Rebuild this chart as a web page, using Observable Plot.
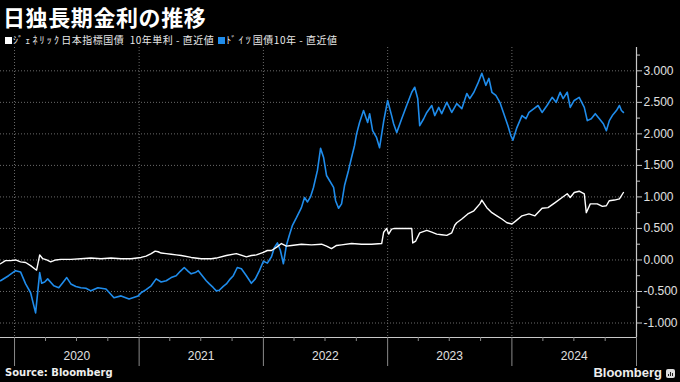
<!DOCTYPE html>
<html>
<head>
<meta charset="utf-8">
<script src="https://cdn.jsdelivr.net/npm/d3@7"></script>
<script src="https://cdn.jsdelivr.net/npm/@observablehq/plot@0.6"></script>
<style>
  html, body { margin:0; padding:0; background:#000; }
  body { width:680px; height:382px; overflow:hidden; position:relative; font-family:"Noto Sans CJK JP","Noto Sans",sans-serif; color:#fff; }
  #title { height:32px; line-height:32px; font-size:22px; letter-spacing:0.6px; font-weight:700; padding-left:3px; white-space:nowrap; }
  #legend { height:15px; line-height:15px; font-size:10px; letter-spacing:0.5px; padding-left:5px; white-space:pre; color:#e8e8e8; }
  #legend .sw { display:inline-block; width:7px; height:7px; margin-right:1px; vertical-align:0px; }
  #legend .item { margin-right:4px; }
  #legend .kana { letter-spacing:2.2px; }
  #chart { height:320px; }
  #footer { position:absolute; left:0; top:365px; width:680px; height:17px; }
  #src { position:absolute; left:5px; top:2px; font-family:"DejaVu Sans",sans-serif; font-weight:700; font-size:10px; color:#eee; }
  #brand { position:absolute; right:18px; top:0px; font-family:"Liberation Sans","Roboto",sans-serif; font-weight:700; font-size:13px; line-height:15px; color:#eee; }
  #logo { position:absolute; right:5px; top:4px; width:9px; height:9px; background:#ddd; border-radius:2px; }
  #logo i { position:absolute; bottom:2px; width:1px; background:#222; }
</style>
</head>
<body>
<div id="title">日独長期金利の推移</div>
<div id="legend"></div>
<div id="chart"></div>
<div id="footer"><span id="src">Source: Bloomberg</span><span id="brand">Bloomberg</span><span id="logo"><i style="left:2px;height:2px"></i><i style="left:4px;height:4px"></i><i style="left:6px;height:3px"></i></span></div>
<script>
// Series names / colours (kana prefix shown separately for spacing)
const seriesKana = ["ｼﾞｪﾈﾘｯｸ", "ﾄﾞｲﾂ"];
const seriesRest = ["日本指標国債  10年単利 - 直近値", "国債10年 - 直近値"];
const seriesColors = ["#ffffff", "#1f8ceb"];

// Japan 10Y (fractional year, yield %)
const jgbT = [2019.887,2019.927,2019.968,2020.008,2020.048,2020.089,2020.129,2020.161,2020.177,2020.194,2020.202,2020.226,2020.258,2020.290,2020.331,2020.371,2020.452,2020.532,2020.613,2020.694,2020.774,2020.855,2020.935,2021.016,2021.056,2021.097,2021.129,2021.153,2021.177,2021.218,2021.258,2021.298,2021.339,2021.419,2021.500,2021.581,2021.621,2021.702,2021.782,2021.863,2021.903,2021.944,2022.000,2022.032,2022.065,2022.105,2022.145,2022.185,2022.226,2022.306,2022.387,2022.468,2022.508,2022.548,2022.589,2022.629,2022.710,2022.790,2022.871,2022.952,2022.968,2022.992,2023.008,2023.032,2023.056,2023.113,2023.153,2023.194,2023.202,2023.226,2023.258,2023.315,2023.355,2023.395,2023.435,2023.476,2023.516,2023.540,2023.556,2023.597,2023.645,2023.694,2023.742,2023.758,2023.798,2023.839,2023.879,2023.919,2023.960,2024.000,2024.032,2024.081,2024.137,2024.185,2024.242,2024.290,2024.347,2024.403,2024.444,2024.468,2024.500,2024.540,2024.581,2024.597,2024.629,2024.685,2024.726,2024.758,2024.782,2024.823,2024.863,2024.895];
const jgbV = [-0.06,-0.01,-0.01,0.00,-0.03,-0.04,-0.09,-0.14,-0.16,0.00,0.08,0.02,0.00,-0.03,0.00,0.01,0.01,0.02,0.03,0.02,0.03,0.02,0.02,0.04,0.06,0.10,0.14,0.13,0.11,0.10,0.09,0.08,0.07,0.04,0.02,0.02,0.03,0.07,0.10,0.05,0.07,0.08,0.12,0.15,0.15,0.20,0.26,0.22,0.23,0.25,0.24,0.25,0.22,0.18,0.23,0.24,0.26,0.25,0.25,0.26,0.44,0.50,0.41,0.49,0.50,0.50,0.50,0.50,0.27,0.30,0.43,0.47,0.44,0.41,0.40,0.39,0.43,0.55,0.59,0.65,0.73,0.78,0.89,0.95,0.83,0.75,0.70,0.65,0.59,0.57,0.62,0.70,0.73,0.70,0.82,0.83,0.91,0.99,1.05,0.99,1.07,1.09,1.05,0.75,0.89,0.89,0.85,0.86,0.94,0.95,0.97,1.07];

// Germany 10Y (fractional year, yield %)
const bundT = [2019.887,2019.952,2020.008,2020.048,2020.089,2020.129,2020.169,2020.202,2020.218,2020.242,2020.266,2020.315,2020.355,2020.387,2020.419,2020.452,2020.492,2020.532,2020.573,2020.613,2020.669,2020.734,2020.798,2020.855,2020.919,2020.992,2021.016,2021.056,2021.097,2021.137,2021.177,2021.218,2021.258,2021.298,2021.331,2021.363,2021.395,2021.419,2021.452,2021.476,2021.508,2021.540,2021.565,2021.597,2021.621,2021.645,2021.677,2021.702,2021.734,2021.758,2021.790,2021.823,2021.863,2021.903,2021.935,2021.968,2022.000,2022.032,2022.065,2022.089,2022.113,2022.137,2022.161,2022.185,2022.210,2022.234,2022.266,2022.306,2022.331,2022.355,2022.379,2022.403,2022.435,2022.460,2022.484,2022.508,2022.532,2022.565,2022.581,2022.605,2022.629,2022.653,2022.685,2022.710,2022.734,2022.750,2022.774,2022.806,2022.839,2022.855,2022.879,2022.911,2022.935,2022.968,2023.000,2023.032,2023.048,2023.073,2023.113,2023.153,2023.194,2023.218,2023.242,2023.258,2023.290,2023.315,2023.355,2023.379,2023.411,2023.435,2023.476,2023.516,2023.556,2023.597,2023.637,2023.661,2023.694,2023.726,2023.758,2023.790,2023.815,2023.839,2023.871,2023.903,2023.935,2023.968,2023.992,2024.008,2024.040,2024.081,2024.113,2024.137,2024.177,2024.210,2024.242,2024.282,2024.323,2024.355,2024.387,2024.411,2024.444,2024.468,2024.500,2024.540,2024.581,2024.605,2024.637,2024.669,2024.702,2024.734,2024.758,2024.782,2024.806,2024.839,2024.863,2024.879,2024.895];
const bundV = [-0.33,-0.25,-0.17,-0.19,-0.38,-0.52,-0.84,-0.20,-0.37,-0.35,-0.30,-0.41,-0.44,-0.36,-0.28,-0.38,-0.42,-0.44,-0.45,-0.49,-0.44,-0.46,-0.60,-0.57,-0.62,-0.57,-0.52,-0.47,-0.41,-0.30,-0.35,-0.33,-0.28,-0.25,-0.18,-0.12,-0.18,-0.22,-0.20,-0.17,-0.25,-0.33,-0.38,-0.44,-0.49,-0.48,-0.42,-0.38,-0.30,-0.25,-0.12,-0.14,-0.25,-0.37,-0.30,-0.17,-0.02,-0.05,0.05,0.20,0.27,0.15,-0.06,0.23,0.40,0.55,0.67,0.83,0.99,0.92,1.00,1.15,1.42,1.77,1.63,1.34,1.26,1.15,0.94,0.82,0.89,1.18,1.42,1.63,1.82,2.00,2.18,2.37,2.18,2.32,2.05,1.94,1.78,2.20,2.53,2.29,2.16,2.02,2.24,2.45,2.66,2.74,2.56,2.13,2.24,2.34,2.45,2.29,2.42,2.32,2.50,2.34,2.48,2.40,2.64,2.56,2.66,2.80,2.96,2.77,2.88,2.66,2.61,2.50,2.32,2.13,1.97,1.90,2.10,2.29,2.24,2.34,2.40,2.45,2.34,2.45,2.58,2.50,2.66,2.56,2.66,2.42,2.53,2.58,2.42,2.21,2.24,2.32,2.24,2.16,2.05,2.21,2.29,2.37,2.45,2.37,2.34];

// Axis ticks
const yMajor = [-1, -0.5, 0, 0.5, 1, 1.5, 2, 2.5, 3];
const yMinor = [-0.75, -0.25, 0.25, 0.75, 1.25, 1.75, 2.25, 2.75, 3.25];
const yearTicks = [2020, 2021, 2022, 2023, 2024, 2025];
const yearLabels = ["2020", "2021", "2022", "2023", "2024"];
const xStart = 2019.887, xEnd = 2025;
const yDomain = [-1.23, 3.37];

function yr(t) {
  const y = Math.floor(t);
  const s = Date.UTC(y, 0, 1), e = Date.UTC(y + 1, 0, 1);
  return new Date(s + (t - y) * (e - s));
}

const jgb = jgbT.map((t, i) => ({date: yr(t), v: jgbV[i]}));
const bund = bundT.map((t, i) => ({date: yr(t), v: bundV[i]}));
const yearDates = yearTicks.map(y => new Date(Date.UTC(y, 0, 1)));
const quarterDates = yearLabels.flatMap(y => [3, 6, 9].map(m => new Date(Date.UTC(+y, m, 1))));
const midDates = yearLabels.map(y => new Date(Date.UTC(+y, 6, 2)));
const fmt = d => d3.format(".3f")(d).replace("\u2212", "-");

// legend
const legend = document.getElementById("legend");
seriesKana.forEach((k, i) => {
  const s = document.createElement("span");
  s.className = "item";
  s.innerHTML = `<span class="sw" style="background:${seriesColors[i]}"></span><span class="kana">${k}</span>${seriesRest[i]}`;
  legend.appendChild(s);
});

const chart = Plot.plot({
  width: 680,
  height: 320,
  marginTop: 0,
  marginLeft: 0,
  marginRight: 44,
  marginBottom: 30,
  style: {background: "#000", color: "#e0e0e0", fontFamily: "'Liberation Sans', Arial, sans-serif", fontSize: "12px"},
  x: {type: "utc", domain: [yr(xStart), yr(xEnd)], axis: null},
  y: {domain: yDomain, axis: null},
  marks: [
    Plot.ruleY(yMajor, {stroke: "#6a6a6a", strokeDasharray: "1,2", strokeWidth: 1}),
    Plot.ruleX(yearDates.slice(0, 5), {stroke: "#6a6a6a", strokeDasharray: "1,2", strokeWidth: 1}),
    Plot.line(bund, {x: "date", y: "v", stroke: seriesColors[1], strokeWidth: 1.6}),
    Plot.line(jgb, {x: "date", y: "v", stroke: seriesColors[0], strokeWidth: 1.4}),
    Plot.ruleY([yDomain[0]], {stroke: "#c8c8c8", strokeWidth: 1.2}),
    Plot.ruleX([yr(xEnd)], {stroke: "#c8c8c8", strokeWidth: 1.2}),
    Plot.axisY({anchor: "right", ticks: yMajor, tickFormat: fmt, tickSize: 5, tickPadding: 2, label: null, stroke: "#c8c8c8"}),
    Plot.axisY({anchor: "right", ticks: yMinor, tickFormat: () => "", tickSize: 3, label: null, stroke: "#c8c8c8"}),
    Plot.axisX({anchor: "bottom", ticks: yearDates, tickFormat: () => "", tickSize: 29, label: null, stroke: "#8a8a8a"}),
    Plot.axisX({anchor: "bottom", ticks: quarterDates, tickFormat: () => "", tickSize: 4, label: null, stroke: "#8a8a8a"}),
    Plot.axisX({anchor: "bottom", ticks: midDates, tickFormat: (d, i) => yearLabels[i], tickSize: 0, tickPadding: 14, label: null})
  ]
});
document.getElementById("chart").appendChild(chart);
</script>
</body>
</html>
